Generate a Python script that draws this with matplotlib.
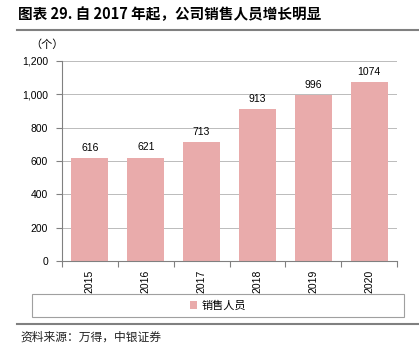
import matplotlib
matplotlib.use('Agg')
import matplotlib.pyplot as plt
from matplotlib.patches import Rectangle
from matplotlib.lines import Line2D

plt.rcParams['font.family'] = ['Noto Sans CJK SC', 'DejaVu Sans']

years = ['2015', '2016', '2017', '2018', '2019', '2020']
sales_staff = [616, 621, 713, 913, 996, 1074]
bar_color = '#E9ABAB'

fig = plt.figure(figsize=(4.19, 3.52), dpi=100)

# Header and footer
fig.text(18 / 419, 1 - 14 / 352, '图表 29. 自 2017 年起，公司销售人员增长明显',
         fontsize=10.5, fontweight='bold', va='center', ha='left')
fig.add_artist(Line2D([17 / 419, 1.0], [1 - 30 / 352] * 2, color='#808080', lw=1.5))
fig.add_artist(Line2D([17 / 419, 1.0], [1 - 324 / 352] * 2, color='#808080', lw=1.5))
fig.text(20 / 419, 1 - 337 / 352, '资料来源：万得，中银证券', fontsize=8.5,
         style='italic', va='center', ha='left', color='#222222')

ax = fig.add_axes((62 / 419, 1 - 261 / 352, 335 / 419, 200 / 352))
x = range(len(years))
bars = ax.bar(x, sales_staff, width=0.66, color=bar_color, zorder=2, label='销售人员')
for xi, v in zip(x, sales_staff):
    ax.text(xi, v + 30, str(v), ha='center', va='bottom', fontsize=7.5,
            family=['Liberation Sans', 'DejaVu Sans'])

ax.set_xlim(-0.5, len(years) - 0.5)
ax.set_ylim(0, 1200)
ax.set_yticks(range(0, 1201, 200))
ax.set_yticklabels([f'{v:,}' for v in range(0, 1201, 200)],
                   family=['Liberation Sans', 'DejaVu Sans'], fontsize=7.5)
ax.set_xticks([i + 0.5 for i in range(-1, len(years))], minor=False)
ax.set_xticklabels([''] * (len(years) + 1))
ax.set_xticks(list(x), minor=True)
ax.set_xticklabels(years, minor=True, rotation=90, fontsize=7.5,
                   family=['Liberation Sans', 'DejaVu Sans'])
ax.tick_params(axis='x', which='minor', length=0, pad=6)
ax.tick_params(axis='x', which='major', length=4, color='#808080', direction='out')
ax.tick_params(axis='y', length=4, color='#808080', direction='out', pad=6)
ax.grid(axis='y', color='#BBBBBB', lw=0.7, zorder=0)
for side in ['top', 'right']:
    ax.spines[side].set_visible(False)
for side in ['left', 'bottom']:
    ax.spines[side].set_color('#808080')
    ax.spines[side].set_linewidth(0.8)

ax.text(-0.045, 1.08, '（个）', transform=ax.transAxes, fontsize=8, ha='center', va='center')

# Legend box
fig.add_artist(Rectangle((32 / 419, 1 - 317 / 352), 372 / 419, 23 / 352,
                         transform=fig.transFigure, fill=False, ec='#A0A0A0', lw=0.8))
fig.legend(handles=[bars], labels=['销售人员'], loc='center',
           bbox_to_anchor=(218 / 419, 1 - 305.5 / 352), frameon=False, fontsize=8,
           handlelength=0.7, handleheight=0.7, handletextpad=0.4)

fig.savefig('out.png', dpi=100)
